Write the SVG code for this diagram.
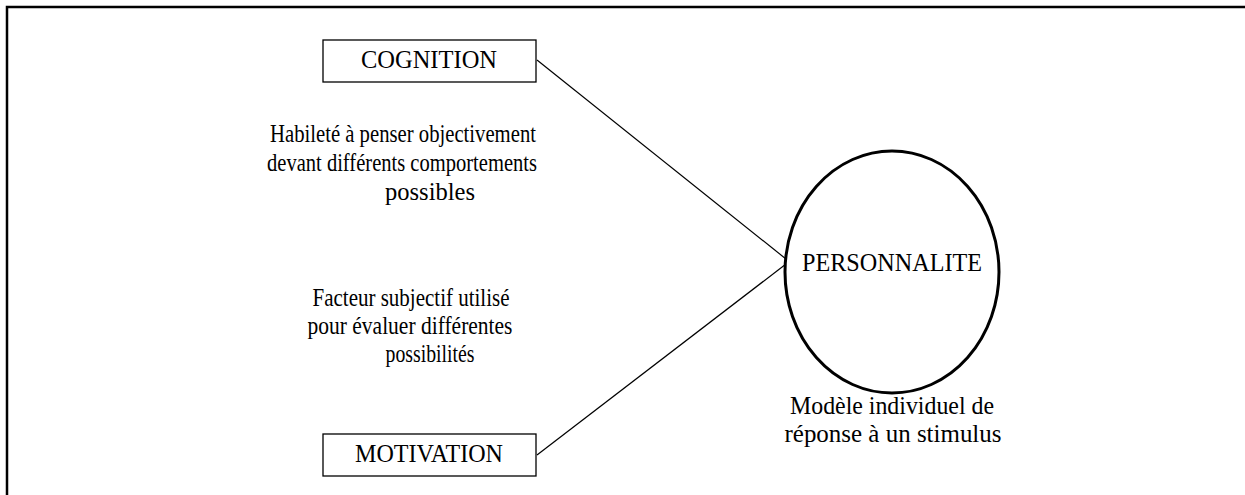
<svg xmlns="http://www.w3.org/2000/svg" width="1245" height="495" viewBox="0 0 1245 495">
<style>
text{font-family:"Liberation Serif","Times New Roman",serif;fill:#000;text-anchor:middle}
.t{font-size:25px}
.box{fill:#fff;stroke:#000;stroke-width:1.3}
.ln{stroke:#000;stroke-width:1.2;fill:none}
</style>
<rect x="0" y="0" width="1245" height="495" fill="#fff"/>
<path d="M7,495 V7 H1245" fill="none" stroke="#000" stroke-width="2.5"/>
<g id="connectors">
<line class="ln" x1="537" y1="60" x2="786" y2="259"/>
<line class="ln" x1="537" y1="455" x2="786" y2="264"/>
</g>
<g id="cognition">
<rect class="box" x="323" y="40" width="213" height="42"/>
<text class="t" x="429" y="68" textLength="136" lengthAdjust="spacingAndGlyphs">COGNITION</text>
</g>
<g id="motivation">
<rect class="box" x="323" y="434" width="213" height="42"/>
<text class="t" x="429" y="462" textLength="148" lengthAdjust="spacingAndGlyphs">MOTIVATION</text>
</g>
<g id="personnalite">
<ellipse cx="892" cy="272" rx="107" ry="121" fill="#fff" stroke="#000" stroke-width="3"/>
<text class="t" x="892" y="271" textLength="180" lengthAdjust="spacingAndGlyphs">PERSONNALITE</text>
</g>
<g id="cognition-desc">
<text class="t" x="403" y="142" textLength="266" lengthAdjust="spacingAndGlyphs">Habileté à penser objectivement</text>
<text class="t" x="402" y="171" textLength="270" lengthAdjust="spacingAndGlyphs">devant différents comportements</text>
<text class="t" x="430" y="200" textLength="90" lengthAdjust="spacingAndGlyphs">possibles</text>
</g>
<g id="motivation-desc">
<text class="t" x="411" y="306" textLength="197" lengthAdjust="spacingAndGlyphs">Facteur subjectif utilisé</text>
<text class="t" x="410" y="334" textLength="205" lengthAdjust="spacingAndGlyphs">pour évaluer différentes</text>
<text class="t" x="430" y="362" textLength="89" lengthAdjust="spacingAndGlyphs">possibilités</text>
</g>
<g id="personnalite-desc">
<text class="t" x="892" y="414" textLength="204" lengthAdjust="spacingAndGlyphs">Modèle individuel de</text>
<text class="t" x="893" y="442" textLength="217" lengthAdjust="spacingAndGlyphs">réponse à un stimulus</text>
</g>
</svg>
